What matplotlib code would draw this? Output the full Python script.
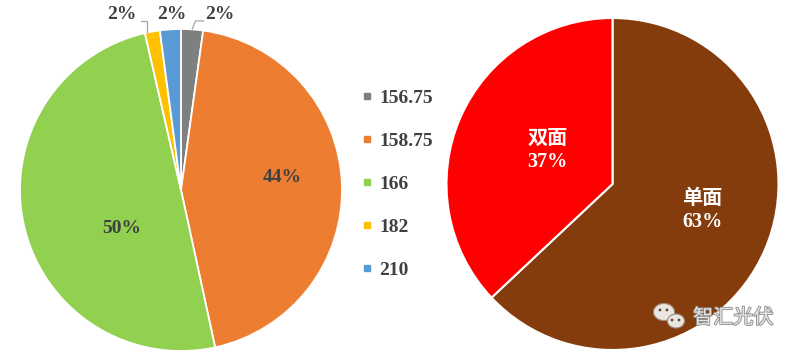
import matplotlib
matplotlib.use("Agg")
import matplotlib.pyplot as plt
from matplotlib.lines import Line2D
from matplotlib.patches import Ellipse
import matplotlib.patheffects as pe

# left pie: wafer size share
sizes = ["156.75", "158.75", "166", "182", "210"]
size_share = [2.2, 44.4, 49.8, 1.5, 2.1]
size_labels = ["2%", "44%", "50%", "2%", "2%"]
size_colors = ["#7F7F7F", "#ED7D31", "#92D050", "#FFC000", "#5B9BD5"]

# right pie: mono vs bifacial
kinds = ["单面", "双面"]
kind_share = [63, 37]
kind_labels = ["63%", "37%"]
kind_colors = ["#843C0C", "#FF0000"]

W, H = 800, 355
num_font = ["Liberation Serif", "Noto Sans CJK SC"]
dark = "#404040"

fig = plt.figure(figsize=(W / 100, H / 100), dpi=100)
fig.patch.set_facecolor("white")


def px_axes(cx, cy, r):
    return fig.add_axes([(cx - r) / W, (H - cy - r) / H, 2 * r / W, 2 * r / H])


# ---- left pie
ax1 = px_axes(181, 190, 161)
wedges, _ = ax1.pie(size_share, colors=size_colors, startangle=90, counterclock=False,
                    wedgeprops=dict(edgecolor="white", linewidth=1.3))
ax1.set_xlim(-1, 1)
ax1.set_ylim(-1, 1)
ax1.set_aspect("equal")
ax1.axis("off")

# label positions in pie-radius units
lab_pos = [(0.24, 1.09), (0.63, 0.08), (-0.37, -0.24), (-0.37, 1.09), (-0.06, 1.09)]
for lab, (x, y) in zip(size_labels, lab_pos):
    ax1.text(x, y, lab, ha="center", va="center", fontsize=14, fontweight="bold",
             color=dark, family=num_font, clip_on=False)

# leader lines for the small slices
ax1.plot([0.07, 0.09, 0.14], [1.0, 1.05, 1.05], color="#A6A6A6", lw=0.9, clip_on=False)
ax1.plot([-0.21, -0.21, -0.25], [0.98, 1.05, 1.05], color="#A6A6A6", lw=0.9, clip_on=False)

handles = [Line2D([], [], marker="s", linestyle="none", markersize=5,
                  markerfacecolor=c, markeredgecolor=c) for c in size_colors]
leg = fig.legend(handles, sizes, loc="center left", bbox_to_anchor=(345 / W, 1 - 184 / H),
                 frameon=False, handlelength=0.5, handletextpad=0.35, labelspacing=1.3,
                 prop=dict(family=num_font, size=14, weight="bold"))
for t in leg.get_texts():
    t.set_color(dark)

# ---- right pie
ax2 = px_axes(612.5, 184, 166)
ax2.pie(kind_share, colors=kind_colors, startangle=90, counterclock=False,
        wedgeprops=dict(edgecolor="white", linewidth=1.5))
ax2.set_xlim(-1, 1)
ax2.set_ylim(-1, 1)
ax2.set_aspect("equal")
ax2.axis("off")

kind_pos = [(0.54, -0.08), (-0.39, 0.28)]
for k, lab, (x, y) in zip(kinds, kind_labels, kind_pos):
    ax2.text(x, y, k, ha="center", va="center", fontsize=14.5, fontweight="bold",
             color="white", family="Noto Sans CJK SC")
    ax2.text(x, y - 0.15, lab, ha="center", va="center", fontsize=14.5, fontweight="bold",
             color="white", family=num_font)

# ---- watermark
ov = fig.add_axes([0, 0, 1, 1], zorder=5)
ov.set_xlim(0, W)
ov.set_ylim(H, 0)
ov.axis("off")
ov.patch.set_alpha(0)
ov.add_patch(Ellipse((664, 312), 21, 17, facecolor="#ECE6E0", edgecolor="#9C8E84", lw=0.8))
ov.add_patch(Ellipse((676, 321), 17, 14, facecolor="#ECE6E0", edgecolor="#9C8E84", lw=0.8))
for ex, ey in [(660, 310), (667, 310), (672, 320), (679, 320)]:
    ov.add_patch(Ellipse((ex, ey), 2.8, 2.8, facecolor="#5A4A40", edgecolor="none"))
ov.text(693, 318, "智汇光伏", ha="left", va="center", fontsize=14.5, color="#E4E4E4",
        family="Noto Sans CJK SC",
        path_effects=[pe.withStroke(linewidth=1.2, foreground="#8C8C8C")])

fig.savefig("out.png", dpi=100, facecolor="white")
